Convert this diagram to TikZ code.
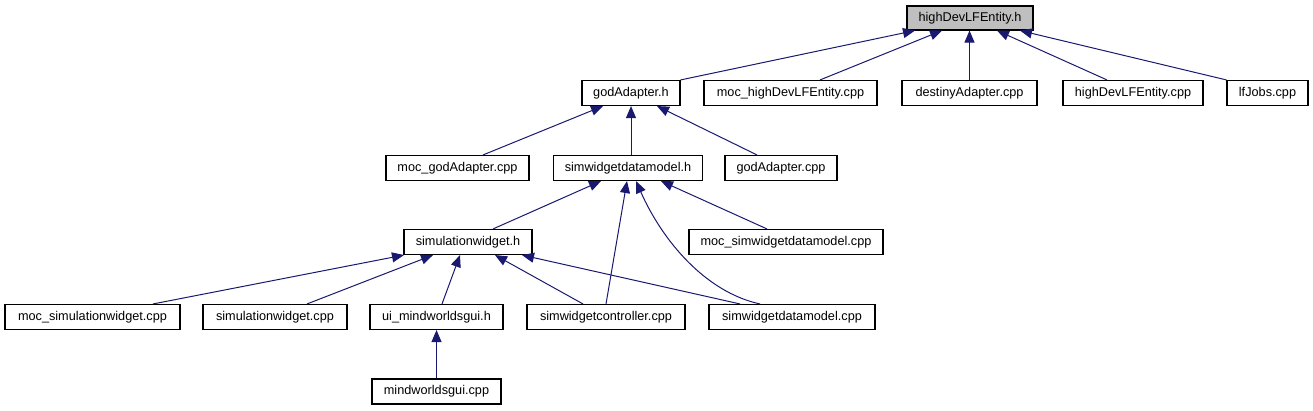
\documentclass[tikz,border=0pt]{standalone}
\usepackage{fontspec}
\setmainfont{Liberation Sans}
\usetikzlibrary{arrows.meta}
\definecolor{edgeblue}{HTML}{191970}
\definecolor{focusgray}{HTML}{BFBFBF}
\tikzset{
  filebox/.style={draw=black, line width=1.1pt, fill=white, rectangle, inner sep=0pt,
    minimum height=25pt, font=\fontsize{12.7}{15}\selectfont},
  focusbox/.style={filebox, fill=focusgray, minimum height=24pt},
  edge/.style={draw=edgeblue, line width=1pt, -{Triangle[length=12pt,width=10pt]}}
}
\begin{document}
\begin{tikzpicture}[x=1pt,y=-1pt]
\useasboundingbox (0,0) rectangle (1313,411);
% row 1
\node[focusbox, minimum width=126pt] (hd) at (970,18) {highDevLFEntity.h};
% row 2
\node[filebox, minimum width=98pt] (ga) at (631,93) {godAdapter.h};
\node[filebox, minimum width=173pt] (mh) at (790.5,93) {moc\_highDevLFEntity.cpp};
\node[filebox, minimum width=135pt] (da) at (969.5,93) {destinyAdapter.cpp};
\node[filebox, minimum width=140pt] (hc) at (1133,93) {highDevLFEntity.cpp};
\node[filebox, minimum width=81pt] (lf) at (1267.5,93) {lfJobs.cpp};
% row 3
\node[filebox, minimum width=143pt] (mg) at (457.5,168) {moc\_godAdapter.cpp};
\node[filebox, minimum width=149pt] (sh) at (628,168) {simwidgetdatamodel.h};
\node[filebox, minimum width=112pt] (gc) at (781,168) {godAdapter.cpp};
% row 4
\node[filebox, minimum width=128pt] (sw) at (468,242) {simulationwidget.h};
\node[filebox, minimum width=194pt] (ms) at (786,242) {moc\_simwidgetdatamodel.cpp};
% row 5
\node[filebox, minimum width=175pt] (msw) at (92.5,317) {moc\_simulationwidget.cpp};
\node[filebox, minimum width=144pt] (swc) at (275,317) {simulationwidget.cpp};
\node[filebox, minimum width=133pt] (ui) at (436.5,317) {ui\_mindworldsgui.h};
\node[filebox, minimum width=158pt] (sc) at (606,317) {simwidgetcontroller.cpp};
\node[filebox, minimum width=166pt] (sd) at (792,317) {simwidgetdatamodel.cpp};
% row 6
\node[filebox, minimum width=129pt] (mw) at (436.5,391.5) {mindworldsgui.cpp};
% edges to highDevLFEntity.h
\draw[edge] (ga.north east) -- ([xshift=-55pt]hd.south);
\draw[edge] ([xshift=29.5pt]mh.north) -- ([xshift=-28pt]hd.south);
\draw[edge] (da.north) -- (da.north |- hd.south);
\draw[edge] ([xshift=-26pt]hc.north) -- ([xshift=27pt]hd.south);
\draw[edge] (lf.north west) -- ([xshift=50pt]hd.south);
% edges to godAdapter.h
\draw[edge] ([xshift=25.5pt]mg.north) -- ([xshift=-28pt]ga.south);
\draw[edge] (ga.south |- sh.north) -- (ga.south);
\draw[edge] ([xshift=-24pt]gc.north) -- ([xshift=26pt]ga.south);
% edges to simwidgetdatamodel.h
\draw[edge] ([xshift=25pt]sw.north) -- ([xshift=-27pt]sh.south);
\draw[edge] (sc.north) -- ([xshift=-1pt]sh.south);
\draw[edge] ([xshift=-32pt]sd.north) .. controls (705,292) and (662,240) .. ([xshift=8pt]sh.south);
\draw[edge] ([xshift=-19pt]ms.north) -- ([xshift=33pt]sh.south);
% edges to simulationwidget.h
\draw[edge] ([xshift=60.5pt]msw.north) -- ([xshift=-64pt]sw.south);
\draw[edge] ([xshift=32pt]swc.north) -- ([xshift=-35pt]sw.south);
\draw[edge] ([xshift=5.5pt]ui.north) -- ([xshift=-8pt]sw.south);
\draw[edge] ([xshift=-23pt]sc.north) -- ([xshift=27pt]sw.south);
\draw[edge] ([xshift=-52pt]sd.north) -- ([xshift=54pt]sw.south);
% edge to ui_mindworldsgui.h
\draw[edge] (mw.north) -- (ui.south);
\end{tikzpicture}
\end{document}
